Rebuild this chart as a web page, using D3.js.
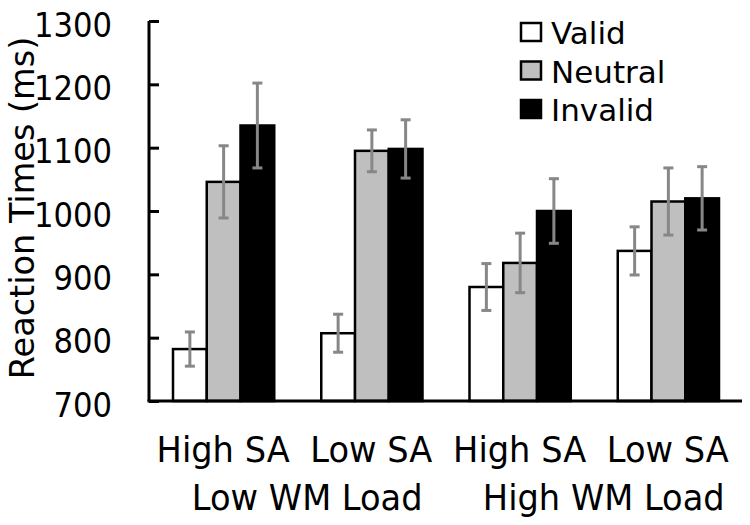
<!DOCTYPE html>
<html>
<head>
<meta charset="utf-8">
<script src="https://cdn.jsdelivr.net/npm/d3@7"></script>
<style>
  html, body { margin: 0; padding: 0; background: #fff; }
  svg { display: block; }
  text { font-family: "DejaVu Sans", Verdana, sans-serif; fill: #000; }
</style>
</head>
<body>
<svg id="chart" width="750" height="525"></svg>
<script>
// ---- data ----
const groups = ["G1", "G2", "G3", "G4"];
const groupLine1 = ["High SA", "Low SA", "High SA", "Low SA"];
const groupLine2 = ["Low WM Load", "High WM Load"];
const series = ["Valid", "Neutral", "Invalid"];
const validValues = [782, 807, 880, 937];
const neutralValues = [1046, 1095, 918, 1015];
const invalidValues = [1135, 1098, 1000, 1020];
const validErrors = [27, 30, 37, 38];
const neutralErrors = [57, 33, 47, 53];
const invalidErrors = [67, 46, 51, 50];
const yTicks = [700, 800, 900, 1000, 1100, 1200, 1300];
const yTitle = "Reaction Times (ms)";

const fills = { Valid: "#ffffff", Neutral: "#bfbfbf", Invalid: "#000000" };
const valuesBySeries = { Valid: validValues, Neutral: neutralValues, Invalid: invalidValues };
const errorsBySeries = { Valid: validErrors, Neutral: neutralErrors, Invalid: invalidErrors };

function squeeze(sel, f) {
  sel.each(function () {
    const L = this.getComputedTextLength();
    d3.select(this).attr("textLength", L * f).attr("lengthAdjust", "spacingAndGlyphs");
  });
}

const svg = d3.select("#chart");
const pLeft = 149, pRight = 742, pTop = 21, pBottom = 401;

const x = d3.scaleBand().domain(groups).range([pLeft, pRight]).padding(0);
const xs = d3.scaleBand().domain(series).range([24, x.bandwidth() - 23]).padding(0);
const y = d3.scaleLinear().domain([700, 1300]).range([pBottom, pTop]);

// bars
const rows = [];
groups.forEach((g, i) => series.forEach(s => rows.push({ g, s, v: valuesBySeries[s][i], e: errorsBySeries[s][i] })));

svg.append("g").selectAll("rect").data(rows).join("rect")
  .attr("x", d => x(d.g) + xs(d.s))
  .attr("y", d => y(d.v))
  .attr("width", xs.bandwidth())
  .attr("height", d => y(700) - y(d.v))
  .attr("fill", d => fills[d.s])
  .attr("stroke", "#000")
  .attr("stroke-width", 2.5);

// error bars
const gErr = svg.append("g").attr("stroke", "#878787").attr("stroke-width", 3);
rows.forEach(d => {
  const cx = x(d.g) + xs(d.s) + xs.bandwidth() / 2;
  const hw = 5;
  gErr.append("line").attr("x1", cx).attr("x2", cx).attr("y1", y(d.v + d.e)).attr("y2", y(d.v - d.e));
  gErr.append("line").attr("x1", cx - hw).attr("x2", cx + hw).attr("y1", y(d.v + d.e)).attr("y2", y(d.v + d.e));
  gErr.append("line").attr("x1", cx - hw).attr("x2", cx + hw).attr("y1", y(d.v - d.e)).attr("y2", y(d.v - d.e));
});

// y axis
const yAxis = d3.axisRight(y).tickValues(yTicks).tickSize(10).tickFormat(d3.format("d"));
const ya = svg.append("g").attr("transform", `translate(${pLeft},0)`).call(yAxis);
ya.select(".domain").attr("stroke", "#000").attr("stroke-width", 3).attr("d", `M0,${pTop}V${pBottom}`);
ya.selectAll(".tick line").attr("stroke", "#000").attr("stroke-width", 3);
const tickTexts = ya.selectAll(".tick text").attr("x", -37).attr("dy", "0.46em").attr("text-anchor", "end")
  .attr("fill", "#000")
  .style("font-size", "33px").style("font-family", "DejaVu Sans");
squeeze(tickTexts, 0.93);

// x axis line
svg.append("line").attr("x1", pLeft - 1.5).attr("x2", pRight).attr("y1", pBottom).attr("y2", pBottom)
  .attr("stroke", "#000").attr("stroke-width", 3);

// x labels
const xl1 = svg.append("g").selectAll("text").data(groups).join("text")
  .attr("x", d => x(d) + x.bandwidth() / 2)
  .attr("y", 462)
  .attr("text-anchor", "middle")
  .style("font-size", "36px")
  .text((d, i) => groupLine1[i]);
squeeze(xl1, 0.935);

const xl2 = svg.append("g").selectAll("text").data(groupLine2).join("text")
  .attr("x", (d, i) => (x(groups[2 * i]) + x(groups[2 * i + 1]) + x.bandwidth()) / 2 + 10)
  .attr("y", 510)
  .attr("text-anchor", "middle")
  .style("font-size", "36px")
  .text(d => d);
squeeze(xl2, 0.935);

// y title
svg.append("text")
  .attr("transform", `translate(34,${208}) rotate(-90)`)
  .attr("text-anchor", "middle")
  .style("font-size", "33.5px")
  .text(yTitle);

// legend
const lg = svg.append("g");
series.forEach((s, i) => {
  const yy = 23 + i * 38.5;
  lg.append("rect").attr("x", 521).attr("y", yy).attr("width", 20).attr("height", 18)
    .attr("fill", fills[s]).attr("stroke", "#000").attr("stroke-width", 2.5);
  lg.append("text").attr("x", 551).attr("y", yy + 21).style("font-size", "31px").text(s);
});
</script>
</body>
</html>
